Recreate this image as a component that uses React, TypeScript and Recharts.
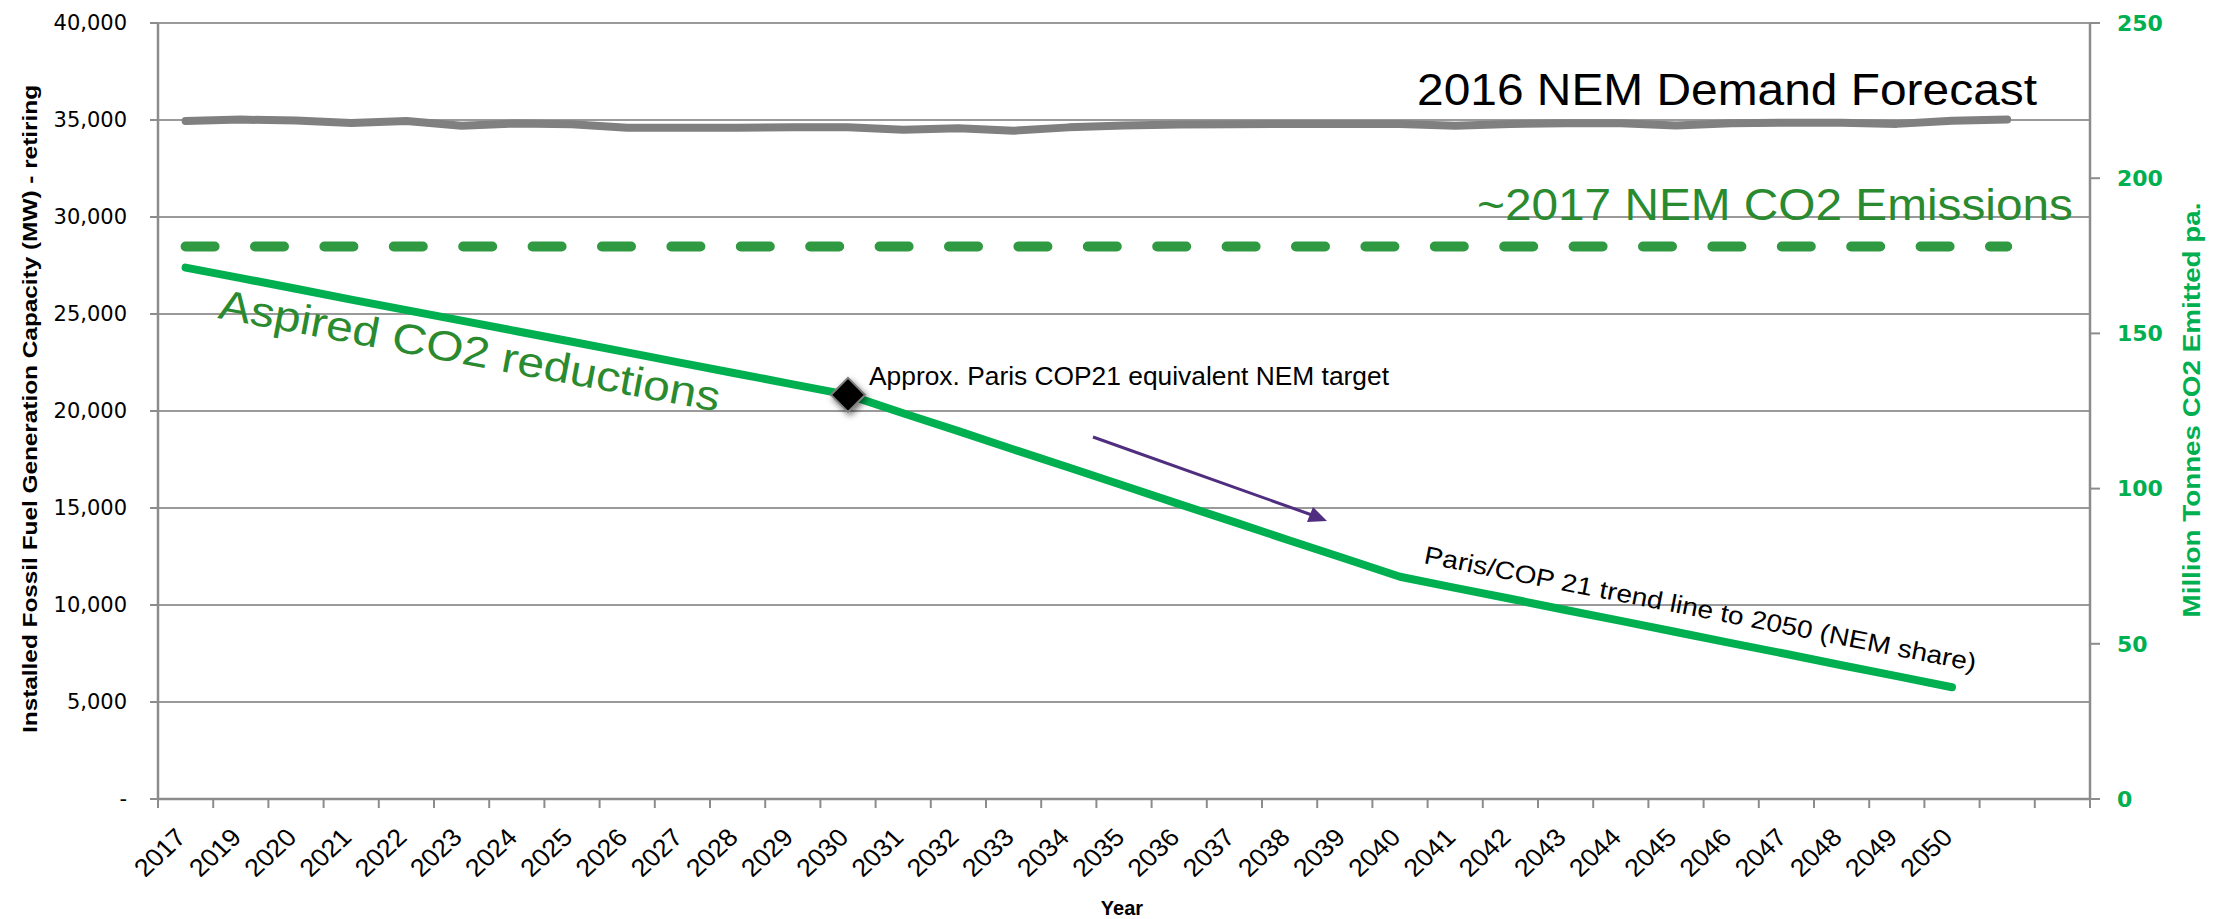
import { CartesianGrid, ComposedChart, Line, XAxis, YAxis } from "recharts";

const years = [
  "2017", "2019", "2020", "2021", "2022", "2023", "2024", "2025", "2026",
  "2027", "2028", "2029", "2030", "2031", "2032", "2033", "2034", "2035",
  "2036", "2037", "2038", "2039", "2040", "2041", "2042", "2043", "2044",
  "2045", "2046", "2047", "2048", "2049", "2050", "", "",
];

// 2016 NEM demand forecast (MW, left axis)
const demand = [
  34950, 35020, 34970, 34850, 34950, 34700, 34820, 34780, 34600, 34600,
  34600, 34630, 34630, 34500, 34580, 34450, 34620, 34720, 34770, 34780,
  34800, 34800, 34800, 34700, 34800, 34830, 34830, 34720, 34830, 34860,
  34860, 34800, 34960, 35030,
];

// ~2017 NEM CO2 emissions (Mt, right axis)
const co2Now = [
  178, 178, 178, 178, 178, 178, 178, 178, 178, 178, 178, 178, 178, 178, 178,
  178, 178, 178, 178, 178, 178, 178, 178, 178, 178, 178, 178, 178, 178, 178,
  178, 178, 178, 178,
];

// Paris/COP21 trend line (Mt, right axis)
const paris = [
  171.2, 167.8, 164.4, 160.9, 157.5, 154.1, 150.7, 147.3, 143.9, 140.4, 137.0,
  133.6, 130.2, 124.3, 118.5, 112.6, 106.8, 100.9, 95.0, 89.2, 83.3, 77.5,
  71.6, 68.0, 64.5, 60.9, 57.4, 53.8, 50.2, 46.7, 43.1, 39.6, 36.0,
];

// 2030 target marker
const target = [
  null, null, null, null, null, null, null, null, null, null, null, null,
  130.2, null, null, null, null, null, null, null, null, null, null, null,
  null, null, null, null, null, null, null, null, null, null, null,
];

const leftTicks = [0, 5000, 10000, 15000, 20000, 25000, 30000, 35000, 40000];
const rightTicks = [0, 50, 100, 150, 200, 250];

const data = years.map((year, i) => ({
  year,
  demand: demand[i] ?? null,
  co2Now: co2Now[i] ?? null,
  paris: paris[i] ?? null,
  target: target[i],
}));

const GREEN = "#00b050";
const DARK_GREEN = "#2a8a2f";
const AXIS = "#8c8c8c";
const HALF_BAND = (2090 - 158) / years.length / 2;

// year label plus the tick marks that sit on category boundaries
const YearTick = (props: any) => {
  const { x, y, payload, index } = props;
  const ax = x + 2;
  const ay = y + 40;
  const last = index === years.length - 1;
  return (
    <g>
      <line x1={x - HALF_BAND} x2={x - HALF_BAND} y1={y} y2={y + 9} stroke={AXIS} strokeWidth={2} />
      {last && <line x1={x + HALF_BAND} x2={x + HALF_BAND} y1={y} y2={y + 9} stroke={AXIS} strokeWidth={2} />}
      {payload.value && (
        <text
          textAnchor="end"
          transform={`translate(${ax} ${ay}) scale(1.08 1) rotate(-45)`}
          fontFamily="Liberation Sans"
          fontSize={25}
          fill="#000"
        >
          {payload.value}
        </text>
      )}
    </g>
  );
};

const Diamond = (props: any) => {
  const { cx, cy, value, index } = props;
  if (value == null || cx == null || cy == null) return <g key={index} />;
  const r = 17;
  return (
    <g key={index}>
      <defs>
        <filter id="dshadow" x="-50%" y="-50%" width="200%" height="200%">
          <feDropShadow dx="2" dy="3" stdDeviation="3" floodOpacity="0.55" />
        </filter>
      </defs>
      <polygon
        points={`${cx},${cy - r} ${cx + r},${cy} ${cx},${cy + r} ${cx - r},${cy}`}
        fill="#000"
        stroke="#7f7f7f"
        strokeWidth={2}
        filter="url(#dshadow)"
      />
    </g>
  );
};

const fmtLeft = (v: number) => (v === 0 ? "-" : v.toLocaleString("en-US"));

export default function App() {
  return (
    <div style={{ position: "absolute", left: 0, top: 0, width: 2213, height: 919, overflow: "hidden", background: "#fff" }}>
      <ComposedChart
        width={2213}
        height={919}
        data={data}
        margin={{ top: 23, right: 0, bottom: 0, left: 0 }}
      >
        <CartesianGrid
          yAxisId="left"
          xAxisId="cat"
          vertical={false}
          stroke="#9a9a9a"
          strokeWidth={2}
        />
        <XAxis
          xAxisId="cat"
          dataKey="year"
          interval={0}
          padding={{ left: HALF_BAND, right: HALF_BAND }}
          tickLine={false}
          tickSize={0}
          tickMargin={0}
          axisLine={{ stroke: AXIS, strokeWidth: 2.5 }}
          tick={YearTick}
          height={120}
        />
        <YAxis
          yAxisId="left"
          domain={[0, 40000]}
          ticks={leftTicks}
          tickFormatter={fmtLeft}
          width={158}
          tickSize={8}
          tickMargin={23}
          axisLine={{ stroke: AXIS, strokeWidth: 2.5 }}
          tickLine={{ stroke: AXIS, strokeWidth: 2 }}
          tick={{ fontFamily: "DejaVu Sans", fontSize: 21, fill: "#000" }}
        />
        <YAxis
          yAxisId="right"
          orientation="right"
          domain={[0, 250]}
          ticks={rightTicks}
          width={123}
          tickSize={10}
          tickMargin={17}
          axisLine={{ stroke: AXIS, strokeWidth: 2.5 }}
          tickLine={{ stroke: AXIS, strokeWidth: 2 }}
          tick={{ fontFamily: "DejaVu Sans", fontSize: 22, fontWeight: "bold", fill: GREEN }}
        />
        <Line
          xAxisId="cat"
          yAxisId="left"
          dataKey="demand"
          stroke="#808080"
          strokeWidth={8}
          strokeLinecap="round"
          strokeLinejoin="round"
          dot={false}
          isAnimationActive={false}
        />
        <Line
          xAxisId="cat"
          yAxisId="right"
          dataKey="co2Now"
          stroke="#2f9a41"
          strokeWidth={10}
          strokeDasharray="29 40.4"
          strokeLinecap="round"
          dot={false}
          isAnimationActive={false}
        />
        <Line
          xAxisId="cat"
          yAxisId="right"
          dataKey="paris"
          stroke={GREEN}
          strokeWidth={8}
          strokeLinecap="round"
          strokeLinejoin="round"
          dot={false}
          isAnimationActive={false}
        />
        <Line
          xAxisId="cat"
          yAxisId="right"
          dataKey="target"
          stroke="none"
          dot={Diamond}
          activeDot={false}
          isAnimationActive={false}
        />
      </ComposedChart>

      {/* annotations and axis titles */}
      <svg
        width={2213}
        height={919}
        style={{ position: "absolute", left: 0, top: 0, pointerEvents: "none" }}
        fontFamily="Liberation Sans"
      >
        <text x={1417} y={105} fontSize={44} textLength={620} lengthAdjust="spacingAndGlyphs" fill="#000">
          2016 NEM Demand Forecast
        </text>
        <text x={1477} y={220} fontSize={44} textLength={596} lengthAdjust="spacingAndGlyphs" fill={DARK_GREEN}>
          ~2017 NEM CO2 Emissions
        </text>
        <text
          x={217}
          y={318}
          fontSize={42}
          textLength={509}
          lengthAdjust="spacingAndGlyphs"
          fill={DARK_GREEN}
          transform="rotate(10.6 217 318)"
        >
          Aspired CO2 reductions
        </text>
        <text x={869} y={385} fontSize={25} textLength={520} lengthAdjust="spacingAndGlyphs" fill="#000">
          Approx. Paris COP21 equivalent NEM target
        </text>
        <text
          x={1423}
          y={563}
          fontSize={25}
          textLength={562}
          lengthAdjust="spacingAndGlyphs"
          fill="#000"
          transform="rotate(11.1 1423 563)"
        >
          Paris/COP 21 trend line to 2050 (NEM share)
        </text>
        <line x1={1093} y1={437} x2={1312} y2={515} stroke="#4f2d7f" strokeWidth={3} />
        <polygon points="1327,521 1313,507 1307,522" fill="#4f2d7f" />

        <text
          transform="translate(37 409) rotate(-90)"
          textAnchor="middle"
          fontSize={20}
          fontWeight="bold"
          textLength={648}
          lengthAdjust="spacingAndGlyphs"
          fill="#000"
        >
          Installed Fossil Fuel Generation Capacity (MW) - retiring
        </text>
        <text
          transform="translate(2200 410) rotate(-90)"
          textAnchor="middle"
          fontSize={23}
          fontWeight="bold"
          textLength={415}
          lengthAdjust="spacingAndGlyphs"
          fill={GREEN}
        >
          Million Tonnes CO2 Emitted pa.
        </text>
        <text x={1122} y={915} textAnchor="middle" fontSize={20} fontWeight="bold" fill="#000">
          Year
        </text>
      </svg>
    </div>
  );
}
